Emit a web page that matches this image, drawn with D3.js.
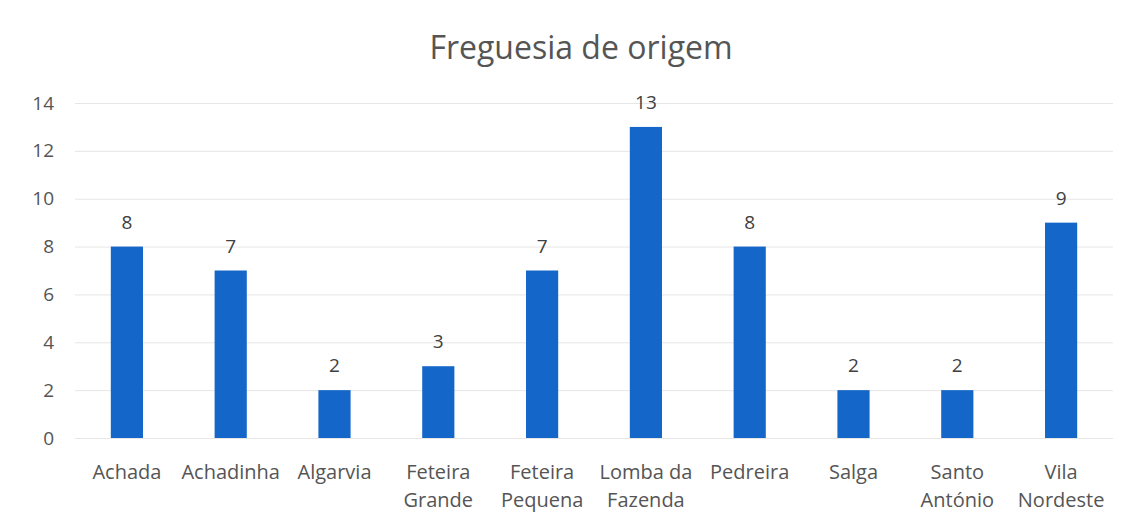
<!DOCTYPE html>
<html>
<head>
<meta charset="utf-8">
<script src="https://cdn.jsdelivr.net/npm/d3@7"></script>
<style>
  html, body { margin: 0; padding: 0; background: #ffffff; }
  svg { display: block; font-family: "Open Sans", sans-serif; }
</style>
</head>
<body>
<svg id="chart" width="1135" height="528"></svg>
<script>
const title = "Freguesia de origem";
const categories = ["Achada", "Achadinha", "Algarvia", "Feteira Grande", "Feteira Pequena",
  "Lomba da Fazenda", "Pedreira", "Salga", "Santo António", "Vila Nordeste"];
const values = [8, 7, 2, 3, 7, 13, 8, 2, 2, 9];
const yTicks = [0, 2, 4, 6, 8, 10, 12, 14];

const svg = d3.select("#chart");
const W = 1135, H = 528;
const m = { left: 75, right: 22, top: 103, bottom: 90 };
const textColor = "#555555";
const barColor = "#1466c9";

svg.append("rect").attr("width", W).attr("height", H).attr("fill", "#ffffff");

const x = d3.scaleBand().domain(categories).range([m.left, W - m.right]).paddingInner(0.69).paddingOuter(0.345);
const y = d3.scaleLinear().domain([0, 14]).range([H - m.bottom, m.top]);

// title
svg.append("text")
  .attr("x", 581).attr("y", 59)
  .attr("text-anchor", "middle")
  .attr("font-size", 32)
  .attr("fill", textColor)
  .text(title);

// gridlines + y labels
const yAxis = d3.axisLeft(y).tickValues(yTicks).tickSize(-(W - m.left - m.right)).tickPadding(21);
const gy = svg.append("g").attr("transform", `translate(${m.left},0)`).call(yAxis);
gy.select(".domain").remove();
gy.selectAll(".tick line").attr("stroke", "#e6e6e6").attr("stroke-width", 1);
gy.selectAll(".tick text").attr("fill", textColor).attr("font-size", 19)
  .attr("font-family", "Open Sans, sans-serif");

// bars
svg.append("g").selectAll("rect").data(values).join("rect")
  .attr("x", (d, i) => x(categories[i]))
  .attr("y", d => y(d))
  .attr("width", x.bandwidth())
  .attr("height", d => y(0) - y(d))
  .attr("fill", barColor);

// data labels
svg.append("g").selectAll("text").data(values).join("text")
  .attr("x", (d, i) => x(categories[i]) + x.bandwidth() / 2)
  .attr("y", d => y(d) - 18)
  .attr("text-anchor", "middle")
  .attr("font-size", 19)
  .attr("fill", "#404040")
  .text(d => d);

// category labels with wrapping
const xAxis = d3.axisBottom(x).tickSize(0).tickPadding(0);
const gx = svg.append("g").attr("transform", `translate(0,${y(0)})`).call(xAxis);
gx.select(".domain").remove();
gx.selectAll(".tick text")
  .attr("fill", textColor)
  .attr("font-size", 20)
  .attr("font-family", "Open Sans, sans-serif")
  .attr("dy", null)
  .attr("y", 0)
  .each(function(d) {
    const t = d3.select(this);
    const words = d.split(" ");
    t.text(null);
    const maxW = x.step() - 2;
    let lines = [], cur = [];
    const probe = t.append("tspan");
    words.forEach(w => {
      const trial = cur.concat([w]).join(" ");
      probe.text(trial);
      if (probe.node().getComputedTextLength() > maxW && cur.length) {
        lines.push(cur.join(" "));
        cur = [w];
      } else cur.push(w);
    });
    lines.push(cur.join(" "));
    probe.remove();
    lines.forEach((ln, i) => {
      t.append("tspan").attr("x", 0).attr("y", 41 + i * 28).text(ln);
    });
  });
</script>
</body>
</html>
